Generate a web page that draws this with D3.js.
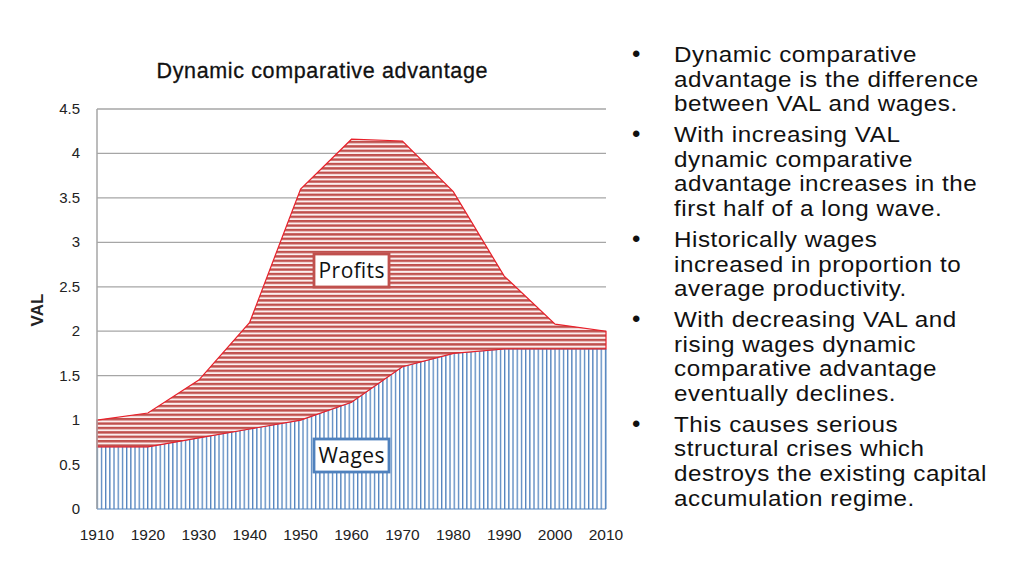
<!DOCTYPE html>
<html>
<head>
<meta charset="utf-8">
<script src="https://cdn.jsdelivr.net/npm/d3@7"></script>
<style>
  body { margin: 0; background: #fff; }
  svg { font-family: Arial, "Liberation Sans", sans-serif; }
</style>
</head>
<body>
<div id="chart"></div>
<script>
var years = [1910, 1920, 1930, 1940, 1950, 1960, 1970, 1980, 1990, 2000, 2010];
var val   = [1.0, 1.08, 1.45, 2.1, 3.6, 4.16, 4.14, 3.57, 2.62, 2.08, 2.0];
var wages = [0.7, 0.7, 0.8, 0.9, 1.0, 1.2, 1.6, 1.75, 1.8, 1.8, 1.8];
var yTicks = [0, 0.5, 1, 1.5, 2, 2.5, 3, 3.5, 4, 4.5];

var bullets = [
  ["Dynamic comparative", "advantage is the difference", "between VAL and wages."],
  ["With increasing VAL", "dynamic comparative", "advantage increases in the", "first half of a long wave."],
  ["Historically wages", "increased in proportion to", "average productivity."],
  ["With decreasing VAL and", "rising wages dynamic", "comparative advantage", "eventually declines."],
  ["This causes serious", "structural crises which", "destroys the existing capital", "accumulation regime."]
];

var width = 1024, height = 576;
var svg = d3.select("#chart").append("svg")
    .attr("width", width)
    .attr("height", height);

var x = d3.scaleLinear().domain([1910, 2010]).range([97, 606]);
var y = d3.scaleLinear().domain([0, 4.5]).range([509, 109]);

// hatch patterns
var defs = svg.append("defs");
var ph = defs.append("pattern")
    .attr("id", "hred")
    .attr("patternUnits", "userSpaceOnUse")
    .attr("width", 8).attr("height", 4.4);
ph.append("rect").attr("width", 8).attr("height", 4.4).attr("fill", "#fbeeee");
ph.append("rect").attr("width", 8).attr("height", 2.4).attr("fill", "#c0504d");

var pv = defs.append("pattern")
    .attr("id", "vblue")
    .attr("patternUnits", "userSpaceOnUse")
    .attr("width", 4.2).attr("height", 8);
pv.append("rect").attr("width", 4.2).attr("height", 8).attr("fill", "#fff");
pv.append("rect").attr("width", 1.3).attr("height", 8).attr("fill", "#4f81bd");

// gridlines
svg.append("g").selectAll("line")
    .data(yTicks.slice(1))
    .enter().append("line")
    .attr("x1", x(1910)).attr("x2", x(2010))
    .attr("y1", function (d) { return y(d); })
    .attr("y2", function (d) { return y(d); })
    .attr("stroke", "#a6a6a6")
    .attr("stroke-width", 1.3);

var rows = years.map(function (yr, i) { return { year: yr, val: val[i], wages: wages[i] }; });

var wageArea = d3.area()
    .x(function (d) { return x(d.year); })
    .y0(y(0))
    .y1(function (d) { return y(d.wages); });

var profitArea = d3.area()
    .x(function (d) { return x(d.year); })
    .y0(function (d) { return y(d.wages); })
    .y1(function (d) { return y(d.val); });

svg.append("path")
    .datum(rows)
    .attr("d", wageArea)
    .attr("fill", "url(#vblue)")
    .attr("stroke", "#4f81bd")
    .attr("stroke-width", 1);

svg.append("path")
    .datum(rows)
    .attr("d", profitArea)
    .attr("fill", "url(#hred)")
    .attr("stroke", "#e8202a")
    .attr("stroke-width", 1.2);

// left axis line
svg.append("line")
    .attr("x1", x(1910)).attr("x2", x(1910))
    .attr("y1", y(0)).attr("y2", y(4.5))
    .attr("stroke", "#a6a6a6").attr("stroke-width", 1.5);

// y tick labels
svg.append("g").selectAll("text")
    .data(yTicks)
    .enter().append("text")
    .attr("x", 80)
    .attr("y", function (d) { return y(d) + 5; })
    .attr("text-anchor", "end")
    .attr("font-size", 15)
    .attr("fill", "#222")
    .text(function (d) { return d; });

// x tick labels
svg.append("g").selectAll("text")
    .data(years)
    .enter().append("text")
    .attr("x", function (d) { return x(d); })
    .attr("y", 540)
    .attr("text-anchor", "middle")
    .attr("font-size", 15.5)
    .attr("fill", "#222")
    .text(function (d) { return d; });

// title
svg.append("text")
    .attr("x", 322).attr("y", 78)
    .attr("text-anchor", "middle")
    .attr("font-size", 21.5)
    .attr("fill", "#111")
    .attr("stroke", "#111")
    .attr("stroke-width", 0.3)
    .attr("textLength", 331)
    .text("Dynamic comparative advantage");

// y label
svg.append("text")
    .attr("transform", "translate(43,310) rotate(-90)")
    .attr("text-anchor", "middle")
    .attr("font-size", 17)
    .attr("font-weight", "bold")
    .attr("fill", "#222")
    .text("VAL");

// area labels
function labelBox(cx, cy, txt, col) {
  svg.append("rect")
      .attr("x", cx - 37.5).attr("y", cy - 16.5)
      .attr("width", 75).attr("height", 33)
      .attr("fill", "#fff")
      .attr("stroke", col)
      .attr("stroke-width", 2.8);
  svg.append("text")
      .attr("x", cx).attr("y", cy + 7.5)
      .attr("text-anchor", "middle")
      .attr("font-family", "'Open Sans', sans-serif")
      .attr("font-size", 21)
      .attr("textLength", 66)
      .attr("fill", "#111")
      .text(txt);
}
labelBox(351.5, 270.5, "Profits", "#c0504d");
labelBox(351.5, 455.5, "Wages", "#4f81bd");

// bullet text (lines are tight, so the font is a bit smaller and widened)
var lineH = 24.7;
var bg = svg.append("g").attr("font-size", 24).attr("fill", "#111");
var tg = svg.append("g")
    .attr("transform", "translate(674,0) scale(1.1,1)")
    .attr("font-size", 22)
    .attr("letter-spacing", 0.5)
    .attr("fill", "#111");
var by = 62;
bullets.forEach(function (lines) {
  bg.append("text").attr("x", 632).attr("y", by).text("\u2022");
  lines.forEach(function (l, j) {
    tg.append("text").attr("x", 0).attr("y", by + j * lineH).text(l);
  });
  by += lines.length * lineH + 6;
});
</script>
</body>
</html>
